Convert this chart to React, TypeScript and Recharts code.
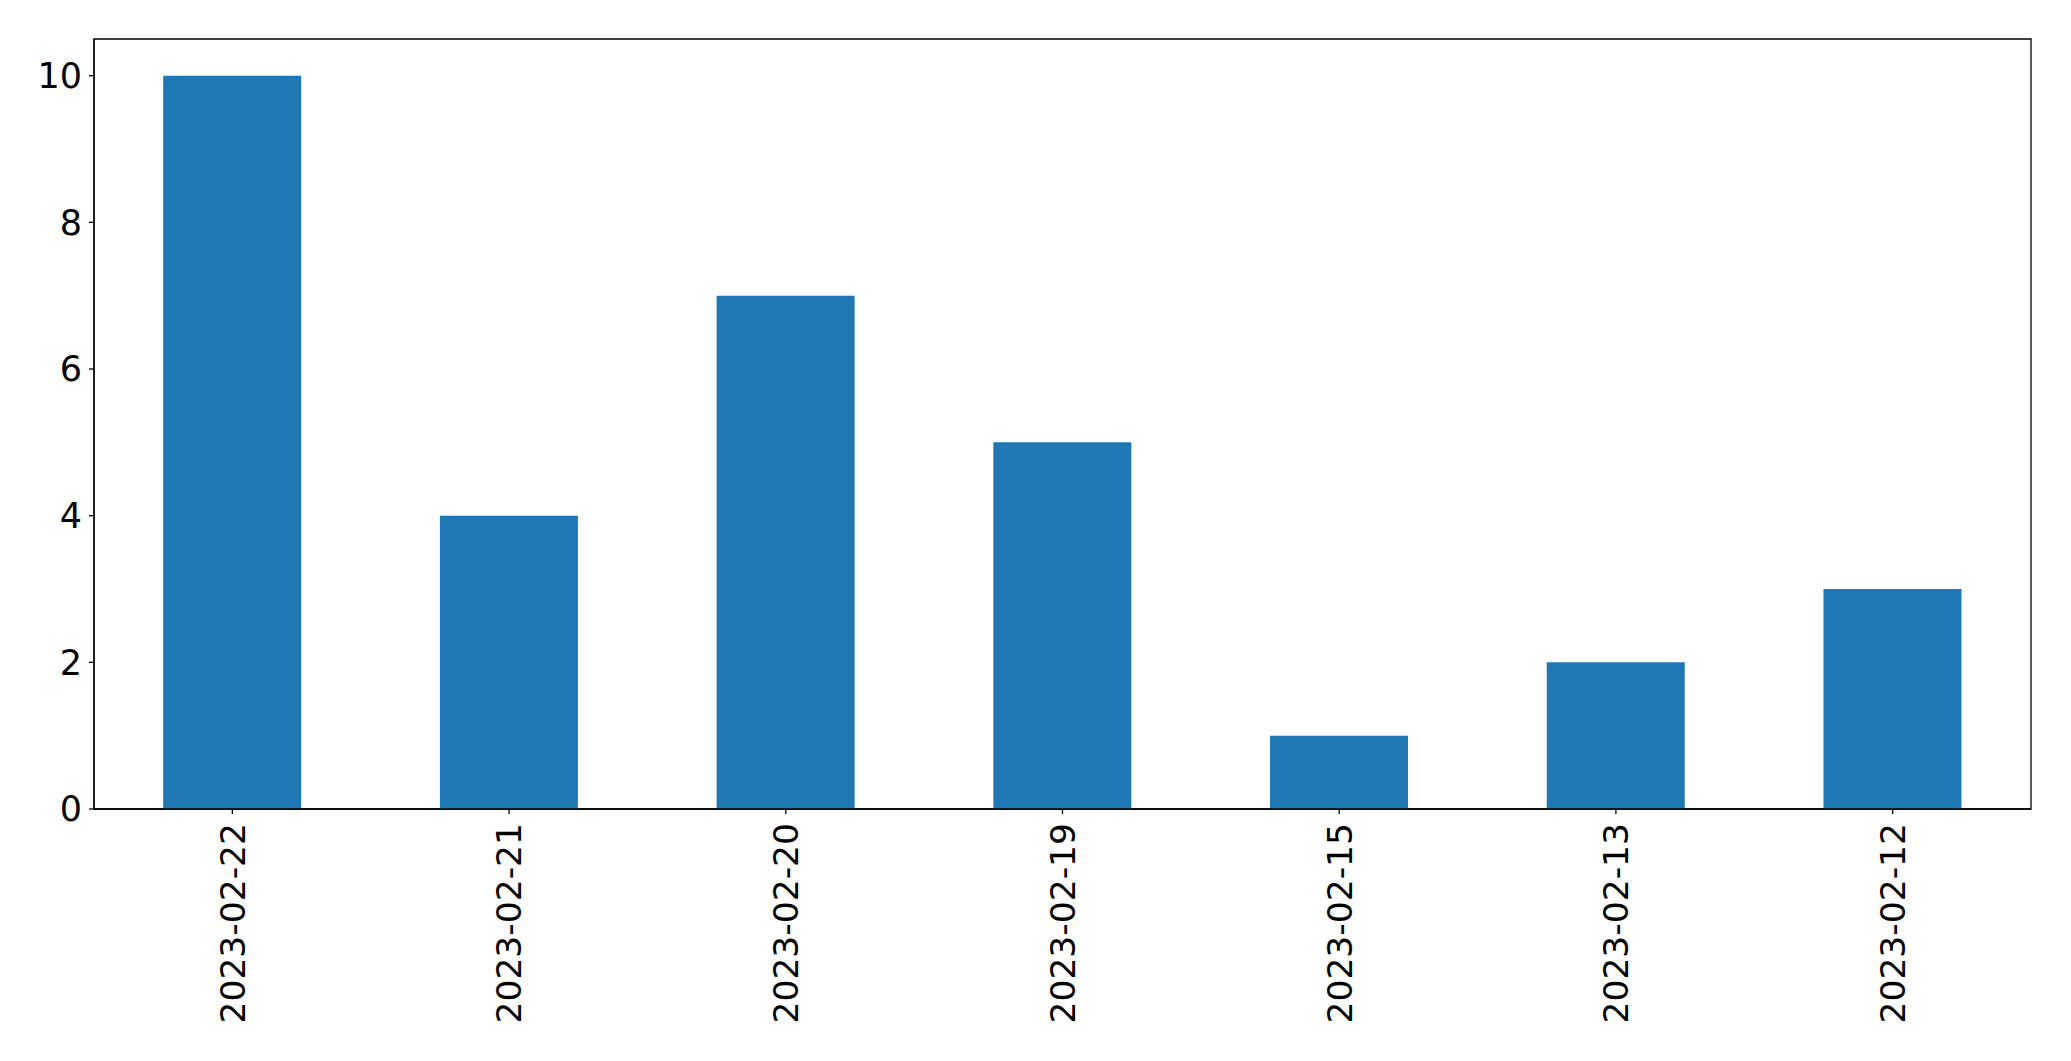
import { Bar, BarChart, ReferenceArea, XAxis, YAxis } from "recharts";

const dates = [
  "2023-02-22",
  "2023-02-21",
  "2023-02-20",
  "2023-02-19",
  "2023-02-15",
  "2023-02-13",
  "2023-02-12",
];
const counts = [10, 4, 7, 5, 1, 2, 3];
const yTicks = [0, 2, 4, 6, 8, 10];
const yMax = 10.5;

const chartData = dates.map((date, i) => ({ date, count: counts[i] }));

const FONT = "DejaVu Sans";

const DateTick = ({ x, y, payload }: any) => (
  <text
    x={0}
    y={0}
    transform={`translate(${x},${y + 7}) rotate(-90)`}
    textAnchor="end"
    dy="0.36em"
    fontSize={34.5}
    fontFamily={FONT}
    fill="#000"
  >
    {payload.value}
  </text>
);

export default function App() {
  return (
    <div style={{ position: "absolute", left: 0, top: 0, background: "#fff" }}>
      <BarChart
        width={2071}
        height={1061}
        data={chartData}
        margin={{ top: 39, right: 40, left: 0, bottom: 0 }}
        barCategoryGap="25%"
      >
        <XAxis
          dataKey="date"
          height={252}
          interval={0}
          tick={<DateTick />}
          tickSize={5}
          axisLine={{ stroke: "#000", strokeWidth: 1.3 }}
          tickLine={{ stroke: "#000", strokeWidth: 1.3 }}
        />
        <YAxis
          width={94}
          domain={[0, yMax]}
          ticks={yTicks}
          interval={0}
          tickSize={5}
          tickMargin={7}
          tick={{ fontSize: 35, fontFamily: FONT, fill: "#000" }}
          axisLine={{ stroke: "#000", strokeWidth: 1.3 }}
          tickLine={{ stroke: "#000", strokeWidth: 1.3 }}
        />
        <Bar dataKey="count" fill="#1f77b4" isAnimationActive={false} />
        <ReferenceArea
          x1={dates[0]}
          x2={dates[dates.length - 1]}
          y1={0}
          y2={yMax}
          fill="none"
          fillOpacity={0}
          stroke="#000"
          strokeWidth={1.3}
          strokeOpacity={1}
        />
      </BarChart>
    </div>
  );
}
